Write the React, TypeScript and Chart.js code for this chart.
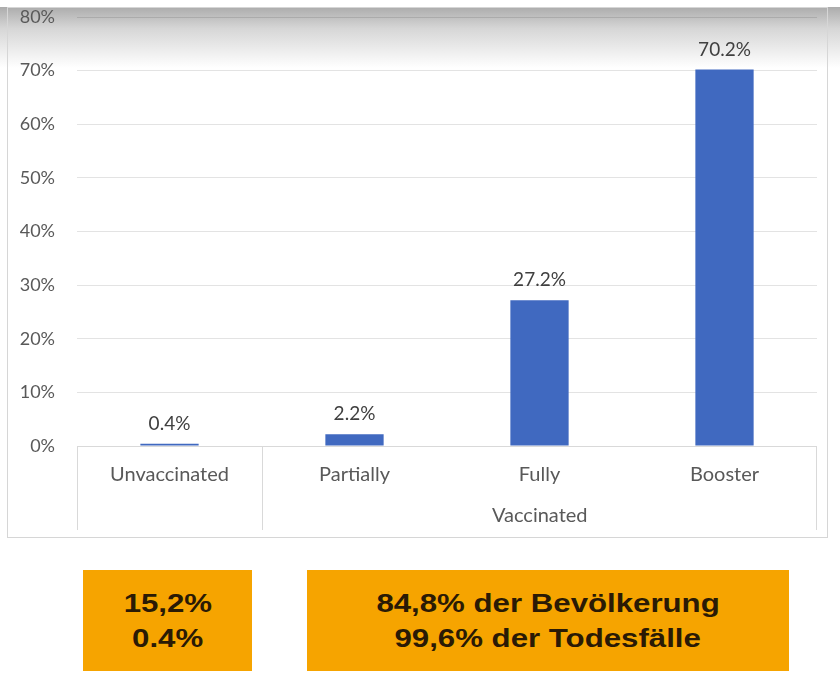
import React, { useEffect, useRef } from "react";
import { Chart, registerables } from "chart.js";
Chart.register(...registerables);

const categories = ["Unvaccinated", "Partially", "Fully", "Booster"];
const values = [0.4, 2.2, 27.2, 70.2];
const groupLabel = "Vaccinated";
const groupStartIndex = 1;
const yMax = 80;
const yStep = 10;
const leftBoxLines = ["15,2%", "0.4%"];
const rightBoxLines = ["84,8% der Bevölkerung", "99,6% der Todesfälle"];

const BAR = "#4069C0";
const TEXT = "#595959";
const GRID = "rgba(0,0,0,0.11)";
const FONT = "Lato, 'Open Sans', sans-serif";

const decorPlugin = {
  id: "decor",
  beforeDraw(chart: any) {
    const { ctx, width } = chart;
    ctx.save();
    ctx.fillStyle = "#ffffff";
    ctx.fillRect(0, 0, width, chart.height);
    const g = ctx.createLinearGradient(0, 7, 0, 68);
    g.addColorStop(0, "rgba(172,172,172,1)");
    g.addColorStop(0.35, "rgba(214,214,214,1)");
    g.addColorStop(1, "rgba(255,255,255,1)");
    ctx.fillStyle = g;
    ctx.fillRect(0, 7, width, 61);
    ctx.restore();
  },
  afterDraw(chart: any) {
    const { ctx, chartArea } = chart;
    const xs = chart.scales.x;
    ctx.save();
    ctx.strokeStyle = "#d6d6d6";
    ctx.lineWidth = 1;
    ctx.strokeRect(7.5, 7.5, 820, 530);
    const bottom = 530;
    ctx.strokeStyle = "#d9d9d9";
    ctx.beginPath();
    ctx.moveTo(chartArea.left, chartArea.bottom + 0.5);
    ctx.lineTo(chartArea.right, chartArea.bottom + 0.5);
    const sep = Math.round((xs.getPixelForValue(groupStartIndex - 1) + xs.getPixelForValue(groupStartIndex)) / 2) + 0.5;
    [Math.round(chartArea.left) + 0.5, sep, Math.round(chartArea.right) - 0.5].forEach((x) => {
      ctx.moveTo(x, chartArea.bottom);
      ctx.lineTo(x, bottom);
    });
    ctx.stroke();
    ctx.fillStyle = TEXT;
    ctx.font = `20px ${FONT}`;
    ctx.textAlign = "center";
    ctx.textBaseline = "middle";
    ctx.fillText(groupLabel, (sep + chartArea.right) / 2, 516);
    const meta = chart.getDatasetMeta(0);
    ctx.fillStyle = "#404040";
    ctx.font = `19px ${FONT}`;
    meta.data.forEach((bar: any, i: number) => {
      ctx.fillText(values[i].toFixed(1) + "%", bar.x, bar.y - 20);
    });
    ctx.restore();
  },
};

function BarChart() {
  const ref = useRef<HTMLCanvasElement>(null);
  useEffect(() => {
    const chart = new Chart(ref.current!, {
      type: "bar",
      data: {
        labels: categories,
        datasets: [
          {
            data: values,
            backgroundColor: BAR,
            barPercentage: 0.63,
            categoryPercentage: 0.5,
          },
        ],
      },
      options: {
        animation: false,
        responsive: false,
        layout: { padding: { left: 0, right: 23, top: 17, bottom: 0 } },
        plugins: { legend: { display: false }, tooltip: { enabled: false } },
        scales: {
          x: {
            grid: { display: false },
            border: { display: false },
            ticks: { color: TEXT, font: { family: FONT, size: 20 }, padding: 9 },
            afterFit(s: any) {
              s.height = 99;
            },
          },
          y: {
            min: 0,
            max: yMax,
            grid: { color: GRID, drawTicks: false },
            border: { display: false },
            ticks: {
              stepSize: yStep,
              color: TEXT,
              font: { family: FONT, size: 18 },
              padding: 22,
              callback: (v: any) => v + "%",
            },
            afterFit(s: any) {
              s.width = 77;
              s.paddingTop = 0;
              s.paddingBottom = 0;
            },
          },
        },
      },
      plugins: [decorPlugin],
    });
    return () => chart.destroy();
  }, []);
  return <canvas ref={ref} width={840} height={545} style={{ display: "block" }} />;
}

const boxStyle: React.CSSProperties = {
  position: "absolute",
  top: 570,
  height: 101,
  background: "#F6A400",
  display: "flex",
  flexDirection: "column",
  justifyContent: "center",
  alignItems: "center",
  fontFamily: "'Liberation Sans', Arial, sans-serif",
  fontWeight: 700,
  fontSize: 26,
  lineHeight: "35px",
  color: "#2a1a05",
};

const lineStyle: React.CSSProperties = {
  transform: "scaleX(1.2)",
  whiteSpace: "nowrap",
};

export default function App() {
  return (
    <div style={{ position: "fixed", left: 0, top: 0, width: 840, height: 682, background: "#fff", overflow: "hidden" }}>
      <BarChart />
      <div style={{ ...boxStyle, left: 83, width: 169 }}>
        {leftBoxLines.map((t) => (
          <div key={t} style={lineStyle}>{t}</div>
        ))}
      </div>
      <div style={{ ...boxStyle, left: 307, width: 482 }}>
        {rightBoxLines.map((t) => (
          <div key={t} style={lineStyle}>{t}</div>
        ))}
      </div>
    </div>
  );
}
